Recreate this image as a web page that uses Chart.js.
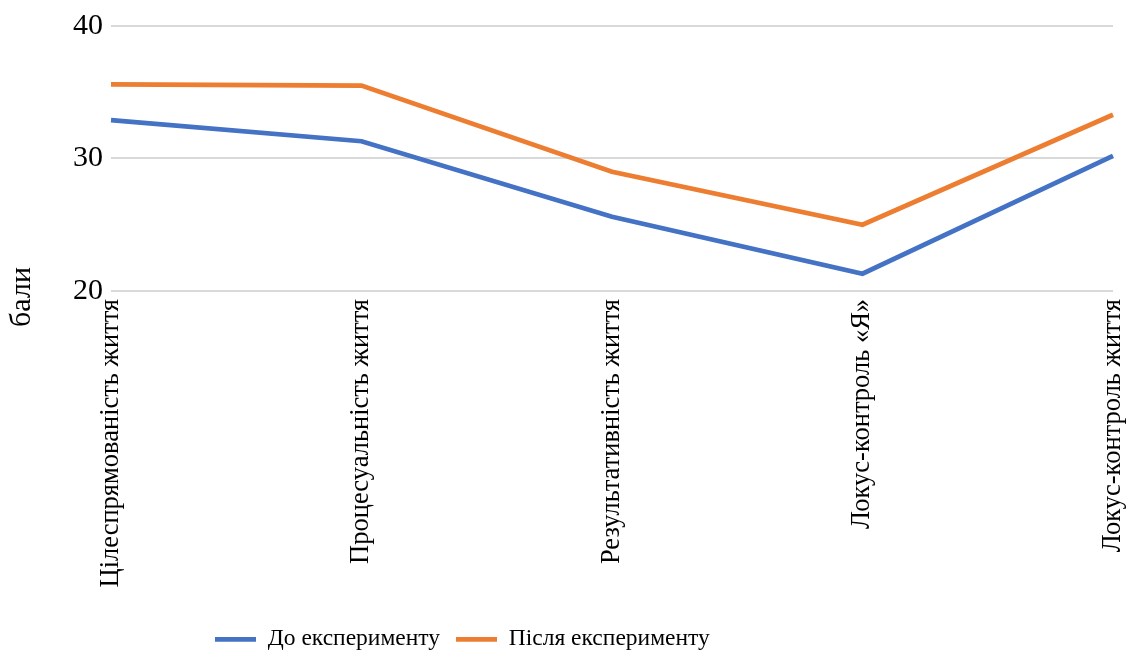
<!DOCTYPE html>
<html>
<head>
<meta charset="utf-8">
<script src="https://cdn.jsdelivr.net/npm/chart.js@4.4.1/dist/chart.umd.min.js"></script>
<style>
  html, body { margin: 0; padding: 0; background: #fff; }
  #wrap { position: relative; width: 1135px; height: 654px; }
</style>
</head>
<body>
<div id="wrap"><canvas id="chart"></canvas></div>
<script>
// Шкали опитувальника СЖО
const categories = [
  'Цілеспрямованість життя',
  'Процесуальність життя',
  'Результативність життя',
  'Локус-контроль «Я»',
  'Локус-контроль життя'
];
const seriesNames = ['До експерименту', 'Після експерименту'];
const beforeValues = [32.9, 31.3, 25.6, 21.3, 30.2];
const afterValues = [35.6, 35.5, 29.0, 25.0, 33.3];
const yTicks = [20, 30, 40];
const yTitle = 'бали';

const FONT = '"Liberation Serif", "Times New Roman", serif';

// Підпис осі Y, розміщений по центру всієї лівої частини
const yTitlePlugin = {
  id: 'yTitle',
  afterDraw(chart) {
    const ctx = chart.ctx;
    ctx.save();
    ctx.translate(22, 297);
    ctx.rotate(-Math.PI / 2);
    ctx.font = '30px ' + FONT;
    ctx.fillStyle = '#000';
    ctx.textAlign = 'center';
    ctx.textBaseline = 'middle';
    ctx.fillText(yTitle, 0, 0);
    ctx.restore();
  }
};

// Зсув легенди: лівіше від центру і трохи нижче
const legendShiftPlugin = {
  id: 'legendShift',
  afterLayout(chart) {
    const lg = chart.legend;
    if (!lg) return;
    const pad = lg.options.labels.padding;
    const w = lg.right - lg.left;
    lg.left = 215 - pad;
    lg.right = lg.left + w;
    lg.top += 7;
    lg.bottom += 7;
  }
};

new Chart(document.getElementById('chart'), {
  type: 'line',
  data: {
    labels: categories,
    datasets: [
      {
        label: seriesNames[0],
        data: beforeValues,
        borderColor: '#4472C4',
        backgroundColor: '#4472C4',
        borderWidth: 4.75,
        pointRadius: 0,
        tension: 0
      },
      {
        label: seriesNames[1],
        data: afterValues,
        borderColor: '#ED7D31',
        backgroundColor: '#ED7D31',
        borderWidth: 4.75,
        pointRadius: 0,
        tension: 0
      }
    ]
  },
  options: {
    responsive: true,
    maintainAspectRatio: false,
    animation: false,
    layout: { padding: { left: 65, right: 0, top: 10, bottom: 0 } },
    plugins: {
      tooltip: { enabled: false },
      legend: {
        position: 'bottom',
        align: 'start',
        labels: {
          usePointStyle: true,
          pointStyle: 'line',
          pointStyleWidth: 41,
          color: '#000',
          font: { family: FONT, size: 23.5 },
          padding: 16
        }
      }
    },
    scales: {
      x: {
        grid: { display: false },
        border: { display: false },
        offset: false,
        afterFit(scale) {
          scale.height += 17;
          scale.paddingRight = 22;
        },
        ticks: {
          color: '#000',
          font: { family: FONT, size: 26.5 },
          minRotation: 90,
          maxRotation: 90,
          autoSkip: false,
          padding: 0
        }
      },
      y: {
        min: 20,
        max: 40,
        afterBuildTicks(scale) {
          scale.ticks = yTicks.map(v => ({ value: v }));
        },
        grid: { color: '#d9d9d9', lineWidth: 2, drawTicks: false },
        border: { display: false },
        ticks: {
          color: '#000',
          font: { family: FONT, size: 30 },
          padding: 8
        }
      }
    }
  },
  plugins: [yTitlePlugin, legendShiftPlugin]
});
</script>
</body>
</html>
